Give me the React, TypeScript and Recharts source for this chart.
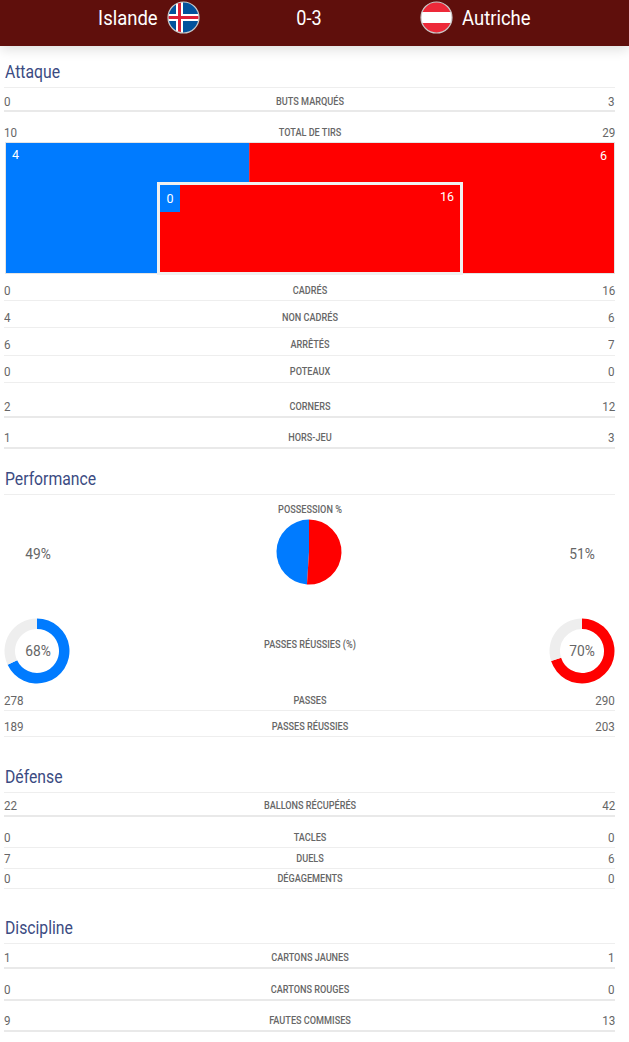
import React from "react";
import { BarChart, Bar, XAxis, YAxis, PieChart, Pie, Cell, LabelList } from "recharts";

const BLUE = "#007bff";
const RED = "#ff0000";
const GREY = "#eeeeee";
const TEXT = "#666666";

const scoreLine = "0-3";
const homeTeam = "Islande";
const awayTeam = "Autriche";

const attackTitle = "Attaque";
const attackLabels = ["BUTS MARQUÉS", "TOTAL DE TIRS", "CADRÉS", "NON CADRÉS", "ARRÊTÉS", "POTEAUX", "CORNERS", "HORS-JEU"];
const attackHome = [0, 10, 0, 4, 6, 0, 2, 1];
const attackAway = [3, 29, 16, 6, 7, 0, 12, 3];

const perfTitle = "Performance";
const perfLabels = ["PASSES", "PASSES RÉUSSIES"];
const perfHome = [278, 189];
const perfAway = [290, 203];
const possession = [49, 51];
const passAccuracy = [68, 70];

const defenseTitle = "Défense";
const defenseLabels = ["BALLONS RÉCUPÉRÉS", "TACLES", "DUELS", "DÉGAGEMENTS"];
const defenseHome = [22, 0, 7, 0];
const defenseAway = [42, 0, 6, 0];

const disciplineTitle = "Discipline";
const disciplineLabels = ["CARTONS JAUNES", "CARTONS ROUGES", "FAUTES COMMISES"];
const disciplineHome = [1, 0, 9];
const disciplineAway = [1, 0, 13];

// [text centre, rule y, rule height], page layout only
const attackRows = [[102, 110, 2], [133, 0, 0], [291, 300, 1], [318, 327, 1], [345, 355, 1], [372, 382, 1], [407, 416, 2], [438, 447, 2]];
const perfRows = [[701, 710, 1], [727, 736, 1]];
const defenseRows = [[806, 815, 2], [838, 847, 1], [859, 868, 1], [879, 888, 1]];
const disciplineRows = [[958, 967, 2], [990, 999, 2], [1021, 1030, 2]];

const FONT = "Roboto, sans-serif";

function T({ x, y, size, color = TEXT, align = "left", weight = 400, squeeze = 0.86, children }: any) {
  const base: React.CSSProperties = {
    position: "absolute",
    top: y - size,
    height: size * 2,
    lineHeight: `${size * 2}px`,
    fontSize: size,
    fontFamily: FONT,
    fontWeight: weight,
    color,
    whiteSpace: "nowrap",
  };
  if (align === "left") return <div style={{ ...base, left: x, transform: `scaleX(${squeeze})`, transformOrigin: "left" }}>{children}</div>;
  if (align === "right") return <div style={{ ...base, right: 629 - x, transform: `scaleX(${squeeze})`, transformOrigin: "right" }}>{children}</div>;
  return <div style={{ ...base, left: x - 150, width: 300, textAlign: "center", transform: `scaleX(${squeeze})` }}>{children}</div>;
}

function Rule({ y, h = 1 }: { y: number; h?: number }) {
  return <div style={{ position: "absolute", left: 4, width: 611, top: y, height: h, background: h > 1 ? "#e9e9e9" : "#eeeeee" }} />;
}

function Rows({ labels, home, away, rows }: { labels: string[]; home: number[]; away: number[]; rows: number[][] }) {
  return (
    <>
      {labels.map((l, i) => (
        <React.Fragment key={l}>
          <T x={4} y={rows[i][0] - 0.5} size={13.5}>{home[i]}</T>
          <T x={309.5} y={rows[i][0] - 0.5} size={11} align="center" squeeze={0.83} weight={500}>{l}</T>
          <T x={615} y={rows[i][0] - 0.5} size={13.5} align="right">{away[i]}</T>
          {rows[i][2] > 0 && <Rule y={rows[i][1]} h={rows[i][2]} />}
        </React.Fragment>
      ))}
    </>
  );
}

function Title({ y, ruleY, children }: any) {
  return (
    <>
      <T x={4.5} y={y} size={18} squeeze={0.875} color="#3b4b82">{children}</T>
      <Rule y={ruleY} />
    </>
  );
}

function Flag({ left, bands }: { left: number; bands: "is" | "at" }) {
  return (
    <svg style={{ position: "absolute", left, top: 1 }} width={33} height={33} viewBox="0 0 33 33">
      <defs>
        <clipPath id={`c-${bands}`}><circle cx={16.5} cy={16.5} r={15.5} /></clipPath>
      </defs>
      {bands === "is" ? (
        <g clipPath="url(#c-is)">
          <rect width={33} height={33} fill="#02529c" />
          <rect x={9} width={7} height={33} fill="#fff" />
          <rect y={13} width={33} height={7} fill="#fff" />
          <rect x={11} width={3} height={33} fill="#dc1e35" />
          <rect y={15} width={33} height={3} fill="#dc1e35" />
        </g>
      ) : (
        <g clipPath="url(#c-at)">
          <rect width={33} height={33} fill="#ed2939" />
          <rect y={11} width={33} height={11} fill="#fff" />
        </g>
      )}
      <circle cx={16.5} cy={16.5} r={15.5} fill="none" stroke="#c9c9c9" strokeWidth={1.2} />
    </svg>
  );
}

const labelStyle = { fill: "#fff", fontSize: 12.5, fontFamily: FONT };

function ShotsOuter() {
  const data = [{ name: "shots", home: attackHome[3], away: attackAway[3] }];
  return (
    <div style={{ position: "absolute", left: 5, top: 142, border: "1px solid #e4e4e4", lineHeight: 0 }}>
      <BarChart layout="vertical" width={608} height={130} data={data} margin={{ top: 0, right: 0, bottom: 0, left: 0 }} barCategoryGap={0}>
        <XAxis type="number" hide domain={[0, attackHome[3] + attackAway[3]]} />
        <YAxis type="category" dataKey="name" hide />
        <Bar dataKey="home" stackId="a" fill={BLUE} isAnimationActive={false}>
          <LabelList dataKey="home" position="insideTopLeft" offset={6} dy={1} style={labelStyle} />
        </Bar>
        <Bar dataKey="away" stackId="a" fill={RED} isAnimationActive={false}>
          <LabelList dataKey="away" position="insideTopRight" offset={7} dy={1} style={labelStyle} />
        </Bar>
      </BarChart>
    </div>
  );
}

function ShotsInner() {
  const data = [{ name: "onTarget", home: attackHome[2], away: attackAway[2] }];
  return (
    <div style={{ position: "absolute", left: 157, top: 181.5, border: "3px solid #f0f0f0", lineHeight: 0 }}>
      <div style={{ position: "relative", width: 300, height: 87 }}>
        <div style={{ position: "absolute", left: 0, top: 0 }}>
          <BarChart layout="vertical" width={300} height={87} data={data} margin={{ top: 0, right: 0, bottom: 0, left: 0 }} barCategoryGap={0}>
            <XAxis type="number" hide domain={[0, attackAway[2]]} />
            <YAxis type="category" dataKey="name" hide />
            <Bar dataKey="away" fill={RED} isAnimationActive={false}>
              <LabelList dataKey="away" position="insideTopRight" offset={6} dy={1.5} style={labelStyle} />
            </Bar>
          </BarChart>
        </div>
        <div style={{ position: "absolute", left: 0, top: 0 }}>
          <BarChart layout="vertical" width={300} height={27} data={data} margin={{ top: 0, right: 0, bottom: 0, left: 0 }} barCategoryGap={0}>
            <XAxis type="number" hide domain={[0, attackAway[2]]} />
            <YAxis type="category" dataKey="name" hide />
            <Bar dataKey="home" fill={BLUE} minPointSize={20} isAnimationActive={false}>
              <LabelList dataKey="home" position="center" style={labelStyle} />
            </Bar>
          </BarChart>
        </div>
      </div>
    </div>
  );
}

function Possession() {
  const data = [
    { name: "home", value: possession[0] },
    { name: "away", value: possession[1] },
  ];
  return (
    <div style={{ position: "absolute", left: 274, top: 516.5 }}>
      <PieChart width={70} height={70} margin={{ top: 0, right: 0, bottom: 0, left: 0 }}>
        <Pie data={data} dataKey="value" cx={35} cy={35} outerRadius={32.5} startAngle={90} endAngle={450} stroke="none" isAnimationActive={false}>
          <Cell fill={BLUE} />
          <Cell fill={RED} />
        </Pie>
      </PieChart>
    </div>
  );
}

function Ring({ left, value, color }: { left: number; value: number; color: string }) {
  const data = [
    { name: "done", value },
    { name: "rest", value: 100 - value },
  ];
  return (
    <div style={{ position: "absolute", left, top: 615.5 }}>
      <PieChart width={70} height={70} margin={{ top: 0, right: 0, bottom: 0, left: 0 }}>
        <Pie data={data} dataKey="value" cx={35} cy={35} innerRadius={22} outerRadius={32.5} startAngle={90} endAngle={-270} stroke="none" isAnimationActive={false}>
          <Cell fill={color} />
          <Cell fill={GREY} />
        </Pie>
      </PieChart>
    </div>
  );
}

export default function App() {
  return (
    <div style={{ position: "absolute", left: 0, top: 0, width: 629, height: 1042, background: "#fff", overflow: "hidden" }}>
      <div style={{ position: "absolute", left: 0, top: 0, width: 629, height: 46, background: "#5f0f0c", boxShadow: "0 3px 12px rgba(0,0,0,0.14)" }} />
      <T x={158} y={18} size={21} squeeze={0.88} color="#fff" align="right">{homeTeam}</T>
      <Flag left={166.5} bands="is" />
      <T x={309} y={18} size={21} squeeze={0.86} color="#fff" align="center">{scoreLine}</T>
      <Flag left={419.5} bands="at" />
      <T x={462} y={18} size={21} squeeze={0.88} color="#fff">{awayTeam}</T>

      <Title y={72} ruleY={87}>{attackTitle}</Title>
      <Rows labels={attackLabels} home={attackHome} away={attackAway} rows={attackRows} />
      <ShotsOuter />
      <ShotsInner />

      <Title y={479} ruleY={494}>{perfTitle}</Title>
      <T x={309.5} y={509.5} size={11} align="center" squeeze={0.83} weight={500}>POSSESSION %</T>
      <T x={38} y={553.5} size={15} align="center" squeeze={0.92}>{possession[0]}%</T>
      <T x={582} y={553.5} size={15} align="center" squeeze={0.92}>{possession[1]}%</T>
      <Possession />
      <Ring left={2} value={passAccuracy[0]} color={BLUE} />
      <T x={37.5} y={650.5} size={15} align="center" squeeze={0.92}>{passAccuracy[0]}%</T>
      <T x={309.5} y={644.5} size={11} align="center" squeeze={0.83} weight={500}>PASSES RÉUSSIES (%)</T>
      <Ring left={547} value={passAccuracy[1]} color={RED} />
      <T x={581.5} y={650.5} size={15} align="center" squeeze={0.92}>{passAccuracy[1]}%</T>
      <Rows labels={perfLabels} home={perfHome} away={perfAway} rows={perfRows} />

      <Title y={777} ruleY={792}>{defenseTitle}</Title>
      <Rows labels={defenseLabels} home={defenseHome} away={defenseAway} rows={defenseRows} />

      <Title y={928} ruleY={943}>{disciplineTitle}</Title>
      <Rows labels={disciplineLabels} home={disciplineHome} away={disciplineAway} rows={disciplineRows} />
    </div>
  );
}
